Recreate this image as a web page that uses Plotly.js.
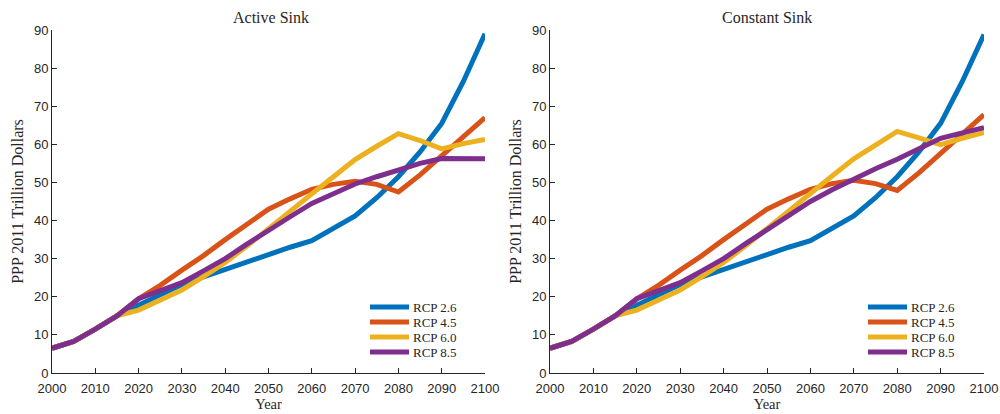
<!DOCTYPE html>
<html>
<head>
<meta charset="utf-8">
<script src="https://cdn.plot.ly/plotly-3.0.1.min.js"></script>
<style>html,body{margin:0;padding:0;background:#fff}#chart{width:1000px;height:414px}</style>
</head>
<body>
<div id="chart"></div>
<script>
const years = [2000,2005,2010,2015,2020,2025,2030,2035,2040,2045,2050,2055,2060,2065,2070,2075,2080,2085,2090,2095,2100];
const seriesNames = ["RCP 2.6","RCP 4.5","RCP 6.0","RCP 8.5"];
const seriesColors = ["#0072BD","#D95319","#EDB120","#7E2F8E"];
const panelTitles = ["Active Sink","Constant Sink"];

// Active Sink
const activeRcp26 = [6.5,8.3,11.5,15,17.8,20.5,23.2,25.2,27.2,29.3,31,33,34.7,38,41.2,46,51.5,58,65.5,76.5,89];
const activeRcp45 = [6.5,8.3,11.5,15,19.5,23,27,30.8,35,39,43,45.7,48.2,49.5,50.3,49.5,47.5,52,57,62,67];
const activeRcp60 = [6.5,8.3,11.5,15,16.5,19,21.8,25.3,29,33.3,38,42.5,47,51.5,56,59.5,62.8,61,58.8,60.2,61.3];
const activeRcp85 = [6.5,8.3,11.5,15,19.5,21.5,23.7,26.8,30,33.8,37.5,41,44.5,47.2,49.6,51.5,53.3,55,56.3,56.4,56.2];

// Constant Sink
const constRcp26 = [6.5,8.3,11.5,15,17.8,20.5,23.2,25.2,27.2,29.3,31,33,34.7,38,41.2,46,51.5,58,65.5,76.5,88.8];
const constRcp45 = [6.5,8.3,11.5,15,19.5,23,27,30.8,35,39,43,45.7,48.2,49.7,50.6,49.7,47.9,52.5,57.5,62.5,67.8];
const constRcp60 = [6.5,8.3,11.5,15,16.5,19,21.8,25.3,29,33.3,38,42.5,47,51.7,56.2,59.8,63.4,61.7,59.9,61.6,63.1];
const constRcp85 = [6.5,8.3,11.5,15,19.5,21.5,23.7,26.8,30,33.9,37.7,41.3,45,48.1,51,53.6,56.1,58.8,61.6,63,64.4];

const panels = [[activeRcp26,activeRcp45,activeRcp60,activeRcp85],[constRcp26,constRcp45,constRcp60,constRcp85]];

const traces = [];
panels.forEach((set, p) => {
  set.forEach((vals, i) => {
    traces.push({
      x: years, y: vals, type: 'scatter', mode: 'lines',
      name: seriesNames[i],
      line: {color: seriesColors[i], width: 5},
      xaxis: p === 0 ? 'x' : 'x2', yaxis: p === 0 ? 'y' : 'y2',
      showlegend: false
    });
  });
});

const W = 1000, H = 414;
const tickFont = {family: 'Liberation Sans, Arial, sans-serif', size: 13, color: '#262626'};
const titleFont = {family: 'Liberation Serif, Times New Roman, serif', size: 16, color: '#262626'};
const xTitleFont = {family: 'Liberation Serif, Times New Roman, serif', size: 14.5, color: '#262626'};
const yTitleFont = {family: 'Liberation Serif, Times New Roman, serif', size: 16, color: '#262626'};
const legendFont = {family: 'Liberation Serif, Times New Roman, serif', size: 13, color: '#262626'};

function xax(domain, anchor) {
  return {domain: domain, anchor: anchor, range: [2000, 2100], dtick: 10, tick0: 2000,
    ticks: 'inside', ticklen: 5, tickcolor: '#262626', showline: true, linecolor: '#262626', linewidth: 1,
    showgrid: false, zeroline: false, tickfont: tickFont, fixedrange: true, ticklabelstandoff: 3,
    title: {text: 'Year', font: xTitleFont, standoff: 1}};
}
function yax(anchor) {
  return {domain: [0.099, 0.9275], anchor: anchor, range: [0, 90], dtick: 10, tick0: 0,
    ticks: 'inside', ticklen: 5, tickcolor: '#262626', showline: true, linecolor: '#262626', linewidth: 1,
    showgrid: false, zeroline: false, tickfont: tickFont, fixedrange: true,
    title: {text: 'PPP 2011 Trillion Dollars', font: yTitleFont, standoff: 6}};
}

// manual legends (inside lower right of each panel)
const legendX = [[370, 409, 413], [868, 907, 911]];
const legendY = [307, 322, 337, 352];
const shapes = [];
const annotations = panelTitles.map((t, i) => ({
  text: t, xref: 'paper', yref: 'paper', x: i === 0 ? 0.2705 : 0.767, y: 0.958,
  xanchor: 'center', yanchor: 'middle', showarrow: false, font: titleFont
}));
legendX.forEach(([x0, x1, xt]) => {
  seriesNames.forEach((nm, i) => {
    const yy = 1 - legendY[i] / H;
    shapes.push({type: 'line', xref: 'paper', yref: 'paper', x0: x0 / W, x1: x1 / W, y0: yy, y1: yy,
      line: {color: seriesColors[i], width: 5}});
    annotations.push({text: nm, xref: 'paper', yref: 'paper', x: xt / W, y: yy, xanchor: 'left', yanchor: 'middle',
      showarrow: false, font: legendFont, xshift: -2});
  });
});

const layout = {
  width: W, height: H,
  margin: {l: 0, r: 0, t: 0, b: 0},
  paper_bgcolor: '#fff', plot_bgcolor: '#fff',
  xaxis: xax([0.052, 0.485], 'y'),
  yaxis: yax('x'),
  xaxis2: xax([0.55, 0.984], 'y2'),
  yaxis2: yax('x2'),
  shapes: shapes,
  annotations: annotations,
  showlegend: false
};

Plotly.newPlot('chart', traces, layout, {staticPlot: true, displayModeBar: false});
</script>
</body>
</html>
